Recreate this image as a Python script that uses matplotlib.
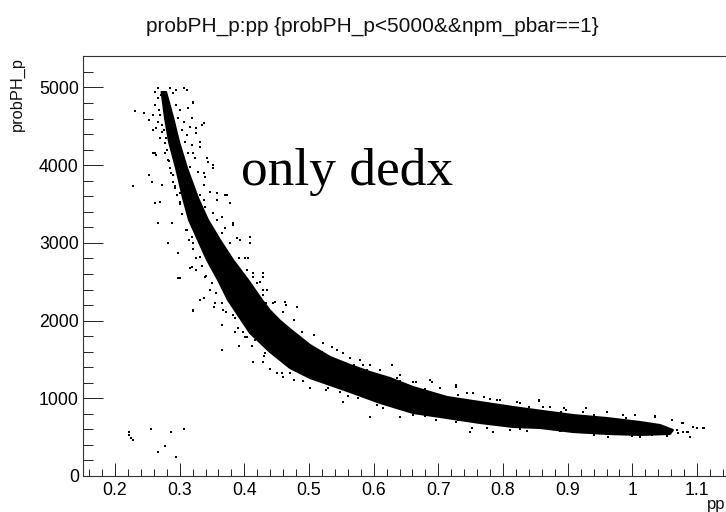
# probPH_p vs pp scatter, dense band drawn as an outline plus the loose points read by eye
import matplotlib
matplotlib.use("Agg")
import matplotlib.pyplot as plt
from matplotlib.ticker import MultipleLocator

plt.rcParams['font.family'] = ['Liberation Sans', 'DejaVu Sans']

# dense core of the band, upper/right edge then lower/left edge
upper_x = [0.2790, 0.2900, 0.2990, 0.3113, 0.3283, 0.3438, 0.3624, 0.3825, 0.4057, 0.4273, 0.4397,
           0.4550, 0.4706, 0.5015, 0.5325, 0.5634, 0.5943, 0.6252, 0.6608, 0.7134, 0.7644, 0.8154,
           0.8726, 0.9082, 0.9608, 1.0118, 1.0427, 1.0628]
upper_y = [4942, 4607, 4299, 3964, 3578, 3295, 3037, 2780, 2523, 2265, 2130,
           2000, 1890, 1686, 1532, 1429, 1338, 1261, 1145, 1017, 952, 888,
           824, 785, 746, 695, 656, 592]
lower_x = [1.0582, 1.0118, 0.9608, 0.9082, 0.8572, 0.8154, 0.7644, 0.7134, 0.6608, 0.6098, 0.5634,
           0.5325, 0.5015, 0.4706, 0.4397, 0.4088, 0.3933, 0.3747, 0.3593, 0.3423, 0.3283, 0.3144,
           0.3051, 0.2943, 0.2835, 0.2773, 0.2720]
lower_y = [541, 528, 541, 566, 618, 631, 682, 746, 811, 940, 1081,
           1171, 1261, 1390, 1596, 1840, 2033, 2265, 2523, 2780, 3037, 3295,
           3578, 3964, 4299, 4607, 4942]

# isolated points away from the band
stray_x = [0.231, 0.245, 0.252, 0.228, 0.252, 0.257, 0.262, 0.267, 0.288, 0.282, 0.298, 0.316,
           0.300, 0.259, 0.264, 0.259, 0.337, 0.326, 0.331, 0.344, 0.352, 0.337, 0.373, 0.357,
           0.378, 0.365, 0.383, 0.409, 0.393, 0.406, 0.429, 0.414, 0.311, 0.321, 0.316, 0.321,
           0.298, 0.321, 0.332, 0.353, 0.365, 0.391, 0.365, 0.401, 0.386, 0.414, 0.429, 0.450,
           0.476, 0.460, 0.222, 0.222, 0.224, 0.228, 0.256, 0.286, 0.306, 0.267, 0.278, 0.294,
           0.429, 0.419, 0.435, 0.463, 0.481, 0.476, 0.535, 0.553, 0.579, 0.594, 0.628, 0.640,
           0.666, 0.690, 0.728, 0.754, 0.790, 0.821, 0.855, 0.894, 0.929, 0.960, 1.035, 1.061,
           1.076, 0.553, 0.594, 0.615, 0.640, 0.752, 0.785, 0.826, 0.963, 1.000, 1.089, 1.086,
           1.094, 1.109, 1.079, 1.069]
stray_y = [4701, 4667, 4581, 3736, 3874, 3788, 3509, 3260, 3251, 2994, 2865, 2672,
           2544, 4152, 4131, 4453, 4538, 4410, 4238, 4045, 3959, 3895, 3616, 3552,
           3509, 3337, 3230, 3080, 3037, 2801, 2608, 2608, 4967, 4796, 4496, 4152,
           2544, 2128, 2265, 2179, 1621, 1673, 1943, 1793, 1857, 1471, 1471, 1321,
           1235, 1278, 570, 527, 485, 463, 605, 562, 605, 313, 386, 240,
           2565, 2479, 2394, 2243, 2179, 2007, 1664, 1579, 1493, 1428, 1428, 1300,
           1214, 1214, 1150, 1064, 978, 957, 970, 871, 871, 828, 772, 721,
           678, 957, 764, 871, 755, 613, 570, 600, 506, 515, 506, 570,
           635, 613, 570, 592]

# speckle hugging the band edges
fuzz_x = [0.262, 0.267, 0.285, 0.290, 0.295, 0.306, 0.262, 0.268, 0.295, 0.300, 0.313, 0.321,
          0.259, 0.267, 0.298, 0.306, 0.319, 0.264, 0.272, 0.303, 0.311, 0.326, 0.334, 0.270,
          0.277, 0.308, 0.319, 0.331, 0.262, 0.277, 0.282, 0.313, 0.324, 0.342, 0.352, 0.285,
          0.290, 0.316, 0.329, 0.339, 0.272, 0.293, 0.300, 0.321, 0.337, 0.347, 0.331, 0.357,
          0.370, 0.270, 0.300, 0.337,
          0.339, 0.352, 0.357, 0.370, 0.383, 0.365, 0.378, 0.388, 0.409, 0.401, 0.391, 0.404,
          0.414, 0.424, 0.429, 0.447, 0.465, 0.311, 0.319, 0.321, 0.331, 0.319, 0.326, 0.339,
          0.347, 0.337, 0.355, 0.367, 0.321,
          0.429, 0.445, 0.460, 0.476, 0.489, 0.507, 0.522, 0.543, 0.563, 0.584, 0.610,
          0.386, 0.398, 0.416, 0.432, 0.414, 0.458, 0.476, 0.501, 0.527, 0.548, 0.576, 0.605,
          0.636, 0.661, 0.687, 0.703, 0.728, 0.744, 0.770, 0.795, 0.826, 0.855, 0.862,
          0.641, 0.661, 0.697, 0.728, 0.749, 0.775, 0.811, 0.837,
          0.873, 0.898, 0.924, 0.960, 0.986, 1.004, 1.035, 1.061, 1.079,
          0.888, 0.935, 0.963, 1.012, 1.053, 1.071, 1.084, 1.089, 1.100, 1.110,
          # closer in, same reading
          0.266, 0.271, 0.274, 0.281, 0.284, 0.287, 0.270, 0.273, 0.292, 0.295, 0.276, 0.279,
          0.297, 0.301, 0.280, 0.284, 0.305, 0.309, 0.286, 0.289, 0.314, 0.318, 0.292, 0.296,
          0.322, 0.327, 0.300, 0.304, 0.335, 0.340, 0.309, 0.314, 0.347, 0.353, 0.320, 0.326,
          0.366, 0.372, 0.335, 0.341, 0.388, 0.394, 0.350, 0.356, 0.412, 0.418, 0.366, 0.372,
          0.433, 0.440, 0.382, 0.390, 0.462, 0.470, 0.404, 0.412, 0.492, 0.500, 0.430, 0.440,
          0.520, 0.535, 0.470, 0.490, 0.570, 0.590, 0.530, 0.560, 0.640, 0.680, 0.620, 0.680,
          0.730, 0.780, 0.730, 0.780, 0.840, 0.890, 0.840, 0.890, 0.940, 0.990, 0.940, 1.030]
fuzz_y = [4946, 4860, 4989, 4925, 4968, 4989, 4775, 4710, 4775, 4710, 4732, 4817,
          4646, 4560, 4603, 4560, 4603, 4474, 4431, 4453, 4388, 4474, 4517, 4346,
          4281, 4303, 4260, 4303, 4153, 4153, 4067, 4153, 4088, 4088, 4002, 3960,
          3874, 3981, 3917, 3852, 3745, 3702, 3638, 3745, 3745, 3659, 3616, 3638,
          3616, 3530, 3530, 3552,
          3466, 3380, 3295, 3187, 3252, 3123, 2994, 3059, 2994, 2801, 2801, 2651,
          2565, 2501, 2394, 2244, 2201, 3166, 3080, 2994, 2823, 2694, 2651, 2565,
          2394, 2286, 2222, 2136, 2136,
          2330, 2222, 2115, 2008, 1858, 1815, 1708, 1622, 1515, 1429, 1364,
          2029, 1858, 1750, 1579, 1472, 1322, 1236, 1128, 1107, 1086, 1000, 914,
          1257, 1214, 1235, 1128, 1171, 1064, 1021, 978, 935, 978, 892,
          763, 785, 720, 699, 570, 613, 592, 579,
          892, 849, 827, 827, 785, 785, 763, 720, 677,
          579, 549, 506, 506, 519, 549, 570, 506, 613, 622,
          4990, 4900, 4800, 4880, 4800, 4700, 4640, 4520, 4520, 4420, 4450, 4350,
          4350, 4220, 4200, 4060, 4110, 3990, 3900, 3780, 3850, 3700, 3730, 3620,
          3560, 3430, 3500, 3370, 3330, 3220, 3170, 3040, 3080, 2960, 2920, 2800,
          2870, 2740, 2700, 2580, 2650, 2530, 2480, 2350, 2430, 2290, 2230, 2110,
          2220, 2090, 2070, 1900, 1920, 1820, 1790, 1670, 1730, 1640, 1540, 1380,
          1600, 1520, 1330, 1220, 1430, 1360, 1130, 1030, 1220, 1120, 920, 770,
          1040, 990, 720, 680, 885, 830, 630, 575, 790, 745, 530, 525]

x_major = [0.2, 0.3, 0.4, 0.5, 0.6, 0.7, 0.8, 0.9, 1.0, 1.1]
x_labels = ['0.2', '0.3', '0.4', '0.5', '0.6', '0.7', '0.8', '0.9', '1', '1.1']
y_major = [0, 1000, 2000, 3000, 4000, 5000]

W, H = 726, 512
fig = plt.figure(figsize=(W / 100, H / 100), dpi=100)
# right edge of the frame is cut off by the picture
ax = fig.add_axes([83 / W, (H - 476) / H, 680 / W, 420 / H])

ax.fill(upper_x + lower_x, upper_y + lower_y, color='black', lw=1.5, joinstyle='round')
ax.scatter(stray_x, stray_y, s=1.2, c='black', marker='s', linewidths=0)
ax.scatter(fuzz_x, fuzz_y, s=1.2, c='black', marker='s', linewidths=0)

ax.set_xlim(0.1505, 0.1505 + 680 / 646.7)
ax.set_ylim(0, 5405)
ax.set_xticks(x_major)
ax.set_xticklabels(x_labels)
ax.set_yticks(y_major)
ax.xaxis.set_minor_locator(MultipleLocator(0.02))
ax.yaxis.set_minor_locator(MultipleLocator(200))
ax.tick_params(axis='x', which='major', direction='in', length=9.5, width=0.7, labelsize=12.7, pad=4, color='#222222')
ax.tick_params(axis='x', which='minor', direction='in', length=4.7, width=0.7, color='#222222')
ax.tick_params(axis='y', which='major', direction='in', length=14.5, width=0.7, labelsize=12.7, pad=3, color='#222222')
ax.tick_params(axis='y', which='minor', direction='in', length=7.2, width=0.7, color='#222222')
for s in ax.spines.values():
    s.set_linewidth(0.8)
    s.set_color('#333333')

fig.text(372 / W, 1 - 26 / H, 'probPH_p:pp {probPH_p<5000&&npm_pbar==1}', fontsize=15,
         ha='center', va='center', color='#111111')
fig.text(17 / W, 1 - 57 / H, 'probPH_p', rotation=90, fontsize=11.8, ha='center', va='top', color='#111111')
fig.text(725 / W, 1 - 504 / H, 'pp', fontsize=12, ha='right', va='center', color='#111111')
fig.text(241 / W, 1 - 172 / H, 'only dedx', fontsize=38.4, family='Liberation Serif', ha='left', va='center', color='black')

fig.savefig('out.png', dpi=100)
